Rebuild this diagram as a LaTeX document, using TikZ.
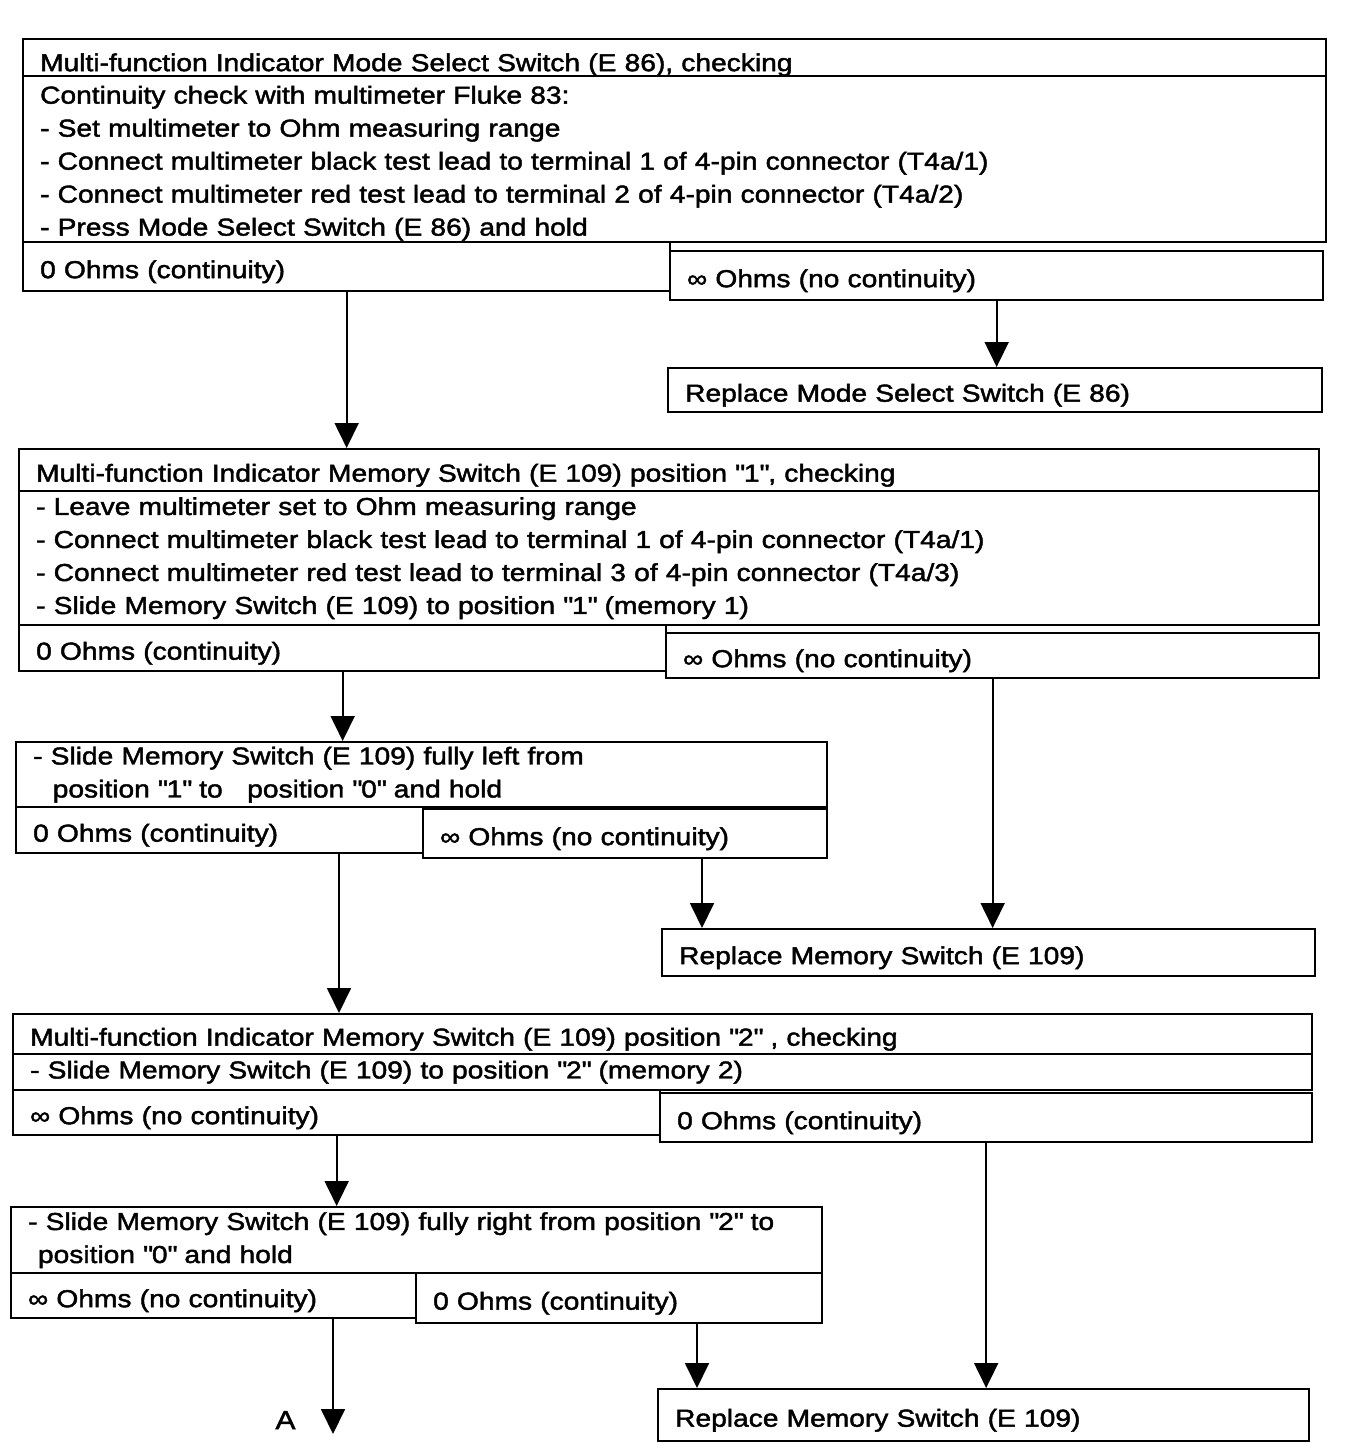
\documentclass[tikz,border=0pt]{standalone}
\usepackage{fontspec}
\setmainfont[FakeStretch=1.15, BoldFont=Liberation Sans, BoldFeatures={FakeBold=1.8}]{Liberation Sans}
\usetikzlibrary{arrows.meta}
\newcommand{\quoted}[1]{\textquotedbl#1\textquotedbl}
\tikzset{
  cell/.style={draw, line width=2.3pt, anchor=north west, inner xsep=17pt, inner ysep=0pt,
    align=left, font=\fontsize{24.5}{33}\selectfont\bfseries},
  one/.style={text height=28pt, text depth=5pt},
  arr/.style={line width=1.8pt, -{Triangle[width=24pt,length=25pt]}}
}
\begin{document}
\begin{tikzpicture}[x=1pt,y=-1pt]
  \useasboundingbox (0,0) rectangle (1344,1450);
  % mode select switch
  \node[cell, one, text height=32pt, minimum width=1303pt, minimum height=37pt, text width=1269pt] (t1) at (22,38)
    {Multi-function Indicator Mode Select Switch (E 86), checking};
  \node[cell, minimum width=1303pt, minimum height=166pt, text width=1269pt] (s1) at (22,75)
    {\rule{0pt}{26pt}Continuity check with multimeter Fluke 83:\\
     - Set multimeter to Ohm measuring range\\
     - Connect multimeter black test lead to terminal 1 of 4-pin connector (T4a/1)\\
     - Connect multimeter red test lead to terminal 2 of 4-pin connector (T4a/2)\\
     - Press Mode Select Switch (E 86) and hold};
  \node[cell, one, minimum width=647pt, minimum height=49pt, text width=613pt] (l1) at (22,241) {0 Ohms (continuity)};
  \node[cell, one, minimum width=653pt, minimum height=49pt, text width=619pt] (r1) at (669,250) {∞ Ohms (no continuity)};
  \node[cell, one, minimum width=654pt, minimum height=44pt, text width=620pt] (rep1) at (667,367) {Replace Mode Select Switch (E 86)};
  % memory switch position 1
  \node[cell, one, minimum width=1300pt, minimum height=42pt, text width=1266pt] (t2) at (18,448)
    {Multi-function Indicator Memory Switch (E 109) position \quoted{1}, checking};
  \node[cell, minimum width=1300pt, minimum height=134pt, text width=1266pt] (s2) at (18,490)
    {- Leave multimeter set to Ohm measuring range\\
     - Connect multimeter black test lead to terminal 1 of 4-pin connector (T4a/1)\\
     - Connect multimeter red test lead to terminal 3 of 4-pin connector (T4a/3)\\
     - Slide Memory Switch (E 109) to position \quoted{1} (memory 1)};
  \node[cell, one, minimum width=647pt, minimum height=46pt, text width=613pt] (l2) at (18,624) {0 Ohms (continuity)};
  \node[cell, one, minimum width=653pt, minimum height=45pt, text width=619pt] (r2) at (665,632) {∞ Ohms (no continuity)};
  \node[cell, minimum width=811pt, minimum height=65pt, text width=777pt] (t3) at (15,741)
    {- Slide Memory Switch (E 109) fully left from\\
     \hspace*{0.8em}position \quoted{1} to~~~position \quoted{0} and hold};
  \node[cell, one, minimum width=407pt, minimum height=46pt, text width=373pt] (l3) at (15,806) {0 Ohms (continuity)};
  \node[cell, one, minimum width=404pt, minimum height=49pt, text width=370pt] (r3) at (422,808) {∞ Ohms (no continuity)};
  \node[cell, one, minimum width=653pt, minimum height=47pt, text width=619pt] (rep2) at (661,928) {Replace Memory Switch (E 109)};
  % memory switch position 2
  \node[cell, one, minimum width=1299pt, minimum height=40pt, text width=1265pt] (t4) at (12,1013)
    {Multi-function Indicator Memory Switch (E 109) position \quoted{2} , checking};
  \node[cell, minimum width=1299pt, minimum height=36pt, text width=1265pt] (s4) at (12,1053)
    {- Slide Memory Switch (E 109) to position \quoted{2} (memory 2)};
  \node[cell, one, minimum width=647pt, minimum height=45pt, text width=613pt] (l4) at (12,1089) {∞ Ohms (no continuity)};
  \node[cell, one, minimum width=652pt, minimum height=49pt, text width=618pt] (r4) at (659,1092) {0 Ohms (continuity)};
  \node[cell, minimum width=811pt, minimum height=66pt, text width=777pt] (t5) at (10,1206)
    {- Slide Memory Switch (E 109) fully right from position \quoted{2} to\\
     \hspace*{0.4em}position \quoted{0} and hold};
  \node[cell, one, minimum width=405pt, minimum height=45pt, text width=371pt] (l5) at (10,1272) {∞ Ohms (no continuity)};
  \node[cell, one, minimum width=406pt, minimum height=50pt, text width=372pt] (r5) at (415,1272) {0 Ohms (continuity)};
  \node[cell, one, minimum width=651pt, minimum height=52pt, text width=617pt] (rep3) at (657,1388) {Replace Memory Switch (E 109)};
  % connectors
  \coordinate (j3) at (702,0);
  \coordinate (j4) at (339,0);
  \coordinate (j5) at (697,0);
  \coordinate (endA) at (333,1434);
  \draw[arr] (r1.south) -- (r1.south |- rep1.north);
  \draw[arr] (l1.south) -- (l1.south |- t2.north);
  \draw[arr] (l2.south) -- (l2.south |- t3.north);
  \draw[arr] (r2.south) -- (r2.south |- rep2.north);
  \draw[arr] (r3.south -| j3) -- (rep2.north -| j3);
  \draw[arr] (l3.south -| j4) -- (t4.north -| j4);
  \draw[arr] (l4.south) -- (l4.south |- t5.north);
  \draw[arr] (r4.south) -- (r4.south |- rep3.north);
  \draw[arr] (r5.south -| j5) -- (rep3.north -| j5);
  \draw[arr] (l5.south -| endA) -- (endA);
  \node[anchor=base east, font=\fontsize{26}{33}\selectfont\bfseries] (lblA) at (299,1429) {A};
\end{tikzpicture}
\end{document}
